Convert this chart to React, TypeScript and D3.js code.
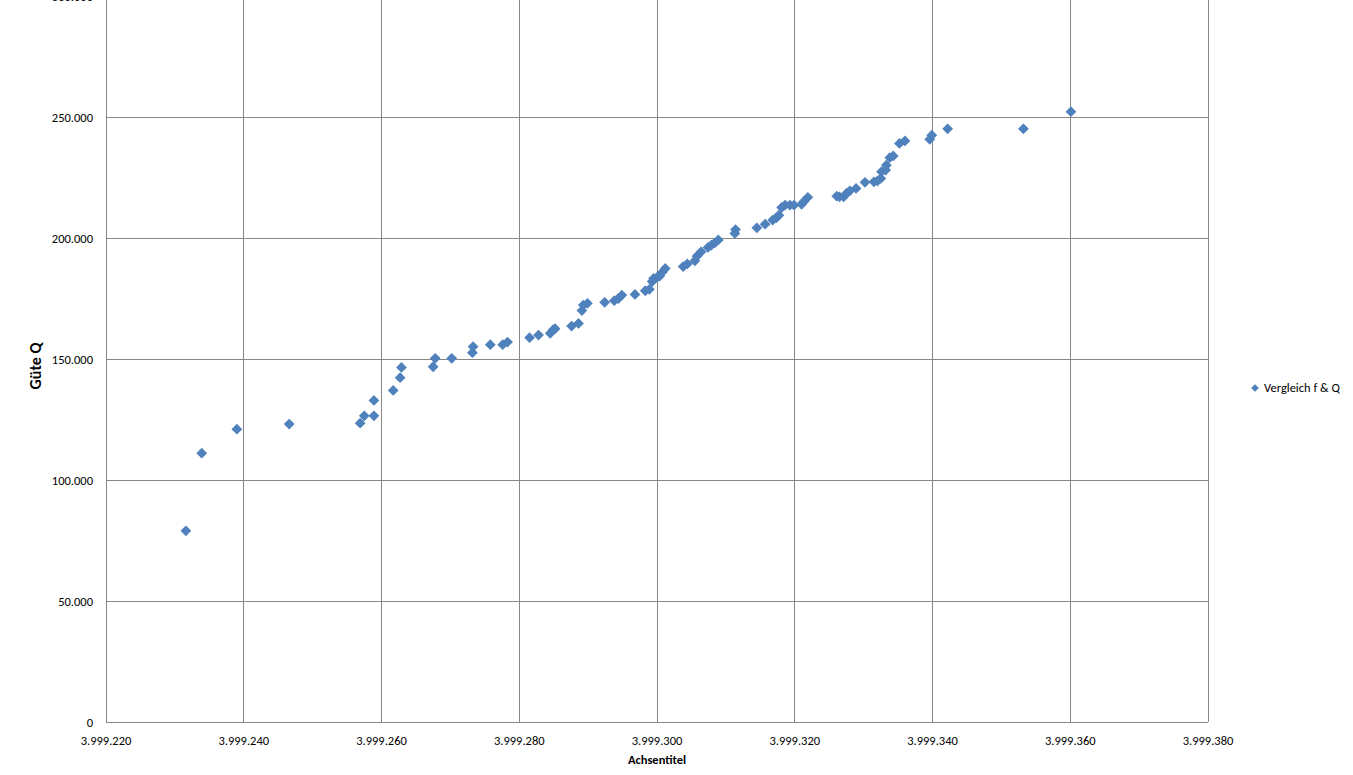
import { useEffect, useRef } from "react";
import * as d3 from "d3";

// Frequenz f (x) und Güte Q (y)
const fValues = [
  3999231.6, 3999233.9, 3999239.0, 3999246.6, 3999256.9, 3999257.5, 3999258.9, 3999258.9,
  3999261.7, 3999262.7, 3999262.9, 3999267.5, 3999267.8, 3999270.2, 3999273.2, 3999273.3,
  3999275.8, 3999277.6, 3999278.3, 3999281.5, 3999282.8, 3999284.5, 3999284.9, 3999285.2,
  3999287.6, 3999288.6, 3999289.1, 3999289.3, 3999289.9, 3999292.4, 3999293.8, 3999294.4,
  3999294.9, 3999296.8, 3999298.3, 3999298.9, 3999299.3, 3999299.5, 3999300.0, 3999300.4,
  3999300.8, 3999301.2, 3999303.8, 3999304.4, 3999305.5, 3999305.8, 3999306.4, 3999307.4,
  3999307.9, 3999308.4, 3999308.9, 3999311.3, 3999311.4, 3999314.5, 3999315.7, 3999316.8,
  3999317.3, 3999317.7, 3999318.1, 3999318.6, 3999319.3, 3999319.9, 3999321.0, 3999321.3,
  3999321.9, 3999326.1, 3999326.5, 3999327.1, 3999327.5, 3999328.0, 3999328.9, 3999330.2,
  3999331.5, 3999332.0, 3999332.5, 3999332.6, 3999333.2, 3999333.3, 3999333.8, 3999334.3,
  3999335.2, 3999336.0, 3999339.6, 3999339.9, 3999342.2, 3999353.2, 3999360.1,
];
const qValues = [
  79000, 111100, 121000, 123100, 123500, 126500, 126500, 132900,
  137000, 142300, 146500, 146800, 150300, 150300, 152600, 155100,
  155900, 155900, 157000, 158800, 159900, 160600, 162000, 162500,
  163600, 164700, 170000, 172300, 173000, 173400, 174100, 175000,
  176400, 176700, 178200, 178800, 182000, 183300, 183700, 184300,
  186000, 187400, 188200, 189300, 190600, 192500, 194300, 196100,
  197100, 198000, 199200, 201900, 203500, 204200, 205700, 207400,
  208300, 209400, 212600, 213600, 213600, 213600, 213900, 215000,
  216800, 217300, 217000, 217000, 218400, 219500, 220500, 223000,
  223200, 223600, 224600, 227400, 228100, 230100, 233200, 233900,
  239100, 240100, 240800, 242500, 245100, 245100, 252200,
];
const xTicks = [3999220, 3999240, 3999260, 3999280, 3999300, 3999320, 3999340, 3999360, 3999380];
const yTicks = [0, 50000, 100000, 150000, 200000, 250000, 300000];
const seriesName = "Vergleich f & Q";
const xTitle = "Achsentitel";
const yTitle = "Güte Q";

const de = d3.formatLocale({ decimal: ",", thousands: ".", grouping: [3], currency: ["", " €"] });
const fmt = de.format(",.0f");

export default function App() {
  const svgRef = useRef<SVGSVGElement>(null);
  const W = 1353;
  const H = 775;

  useEffect(() => {
    if (!svgRef.current) return;
    const svg = d3.select(svgRef.current);
    svg.selectAll("*").remove();

    const font = "Carlito, 'Open Sans', 'Liberation Sans', sans-serif";
    const grid = "#868686";
    const blue = "#4F81BD";

    const xScale = d3.scaleLinear().domain([3999220, 3999380]).range([106, 1208]);
    const yScale = d3.scaleLinear().domain([0, 300000]).range([722, -4]);

    // Gridlines
    svg.append("g")
      .selectAll("line")
      .data(yTicks)
      .join("line")
      .attr("x1", 106)
      .attr("x2", 1208)
      .attr("y1", (d) => yScale(d))
      .attr("y2", (d) => yScale(d))
      .attr("stroke", grid)
      .attr("stroke-width", 1)
      .attr("shape-rendering", "crispEdges");

    svg.append("g")
      .selectAll("line")
      .data(xTicks)
      .join("line")
      .attr("x1", (d) => xScale(d))
      .attr("x2", (d) => xScale(d))
      .attr("y1", yScale(300000))
      .attr("y2", 722)
      .attr("stroke", grid)
      .attr("stroke-width", 1)
      .attr("shape-rendering", "crispEdges");

    // Tick labels (top one is cut off at the edge, as in the original)
    svg.append("g")
      .selectAll("text")
      .data(yTicks)
      .join("text")
      .attr("x", 93)
      .attr("y", (d) => yScale(d) + 1)
      .attr("dy", "0.35em")
      .attr("text-anchor", "end")
      .style("font-family", font)
      .style("font-size", "12.5px")
      .attr("fill", "#000")
      .text((d) => fmt(d));

    svg.append("g")
      .selectAll("text")
      .data(xTicks)
      .join("text")
      .attr("x", (d) => xScale(d))
      .attr("y", 745)
      .attr("text-anchor", "middle")
      .style("font-family", font)
      .style("font-size", "12.5px")
      .attr("fill", "#000")
      .text((d) => fmt(d));

    // Axis titles
    svg.append("text")
      .attr("x", (106 + 1208) / 2)
      .attr("y", 764)
      .attr("text-anchor", "middle")
      .style("font-family", font)
      .style("font-size", "12.5px")
      .style("font-weight", "bold")
      .text(xTitle);

    svg.append("text")
      .attr("transform", `translate(41,${yScale(150000) + 7}) rotate(-90)`)
      .attr("text-anchor", "middle")
      .style("font-family", font)
      .style("font-size", "16px")
      .style("font-weight", "bold")
      .text(yTitle);

    // Points: square markers turned 45°
    const marker = d3.symbol().type(d3.symbolSquare).size(58);
    const pts = fValues.map((f, i) => ({ f, q: qValues[i] }));
    svg.append("g")
      .selectAll("path")
      .data(pts)
      .join("path")
      .attr("d", marker)
      .attr("transform", (d) => `translate(${xScale(d.f)},${yScale(d.q)}) rotate(45)`)
      .attr("fill", blue);

    // Legend
    const lg = svg.append("g").attr("transform", "translate(1255,388)");
    lg.append("path")
      .attr("d", d3.symbol().type(d3.symbolSquare).size(30)())
      .attr("transform", "rotate(45)")
      .attr("fill", blue);
    lg.append("text")
      .attr("x", 9)
      .attr("dy", "0.35em")
      .style("font-family", font)
      .style("font-size", "12.5px")
      .text(seriesName);
  }, []);

  return (
    <svg
      ref={svgRef}
      width={W}
      height={H}
      style={{ position: "absolute", left: 0, top: 0, background: "#fff", display: "block" }}
    />
  );
}
